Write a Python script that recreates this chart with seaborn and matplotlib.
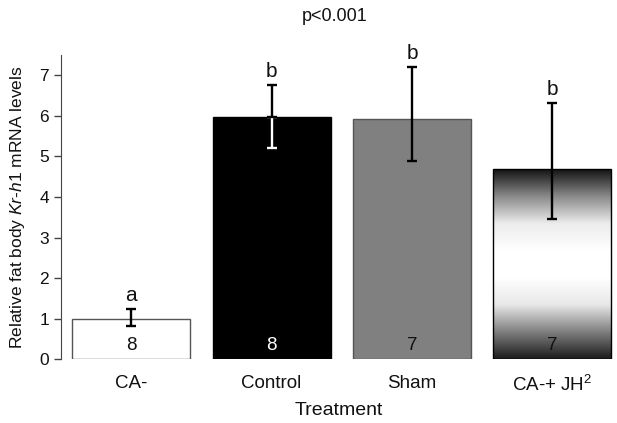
import numpy as np
import pandas as pd
import matplotlib
matplotlib.use('Agg')
import matplotlib.pyplot as plt
from matplotlib.colors import LinearSegmentedColormap
import seaborn as sns

# data
treatments = ['CA-', 'Control', 'Sham', 'CA-+ JH$^{2}$']
means = [1.0, 5.96, 5.93, 4.68]
err_low = [0.83, 5.20, 4.88, 3.46]
err_high = [1.23, 6.77, 7.21, 6.32]
letters = ['a', 'b', 'b', 'b']
n_sizes = [8, 8, 7, 7]

bar_colors = ['white', 'black', '#808080', 'white']
edge_colors = ['#555555', 'black', '#555555', 'black']
err_colors = ['black', 'white', 'black', 'black']

sns.set_style('white')
plt.rcParams['font.family'] = ['Liberation Sans', 'DejaVu Sans']
plt.rcParams['mathtext.fontset'] = 'custom'
plt.rcParams['mathtext.rm'] = 'Liberation Sans'
plt.rcParams['mathtext.it'] = 'Liberation Sans:italic'
plt.rcParams['text.color'] = '#111111'
plt.rcParams['axes.labelcolor'] = '#111111'
plt.rcParams['xtick.color'] = '#111111'
plt.rcParams['ytick.color'] = '#111111'

df = pd.DataFrame({'treatment': treatments, 'mean': means})

fig = plt.figure(figsize=(6.17, 4.23), dpi=100)
ax = fig.add_axes([0.0989, 0.1506, 0.9011, 0.7195])

sns.barplot(data=df, x='treatment', y='mean', hue='treatment', palette=bar_colors,
            legend=False, width=0.84, ax=ax, errorbar=None, saturation=1)

patches = list(ax.patches)
for p, ec in zip(patches, edge_colors):
    p.set_edgecolor(ec)
    p.set_linewidth(1.0)

# gradient fill for the last bar: dark top, white middle, dark bottom
grad_cmap = LinearSegmentedColormap.from_list(
    'g', ['#1c1c1c', '#808080', '#e8e8e8', '#ffffff', '#ffffff', '#ececec', '#8a8a8a', '#141414'])
p = patches[3]
x0, y0 = p.get_x(), p.get_y()
w, h = p.get_width(), p.get_height()
grad = np.linspace(0, 1, 256).reshape(-1, 1)
im = ax.imshow(grad, cmap=grad_cmap, aspect='auto', extent=[x0, x0 + w, y0 + h, y0],
               origin='upper', zorder=p.get_zorder())
im.set_clip_path(p)
p.set_facecolor('none')
p.set_zorder(im.get_zorder() + 0.1)

ekw = dict(capsize=3.5, elinewidth=1.7, capthick=1.7)
for i, (m, lo, hi) in enumerate(zip(means, err_low, err_high)):
    if err_colors[i] == 'white':
        ax.errorbar(i, m, yerr=[[m - lo], [0]], color='white', zorder=5, **ekw)
        ax.errorbar(i, m, yerr=[[0], [hi - m]], color='black', zorder=6, **ekw)
    else:
        ax.errorbar(i, m, yerr=[[m - lo], [hi - m]], color='black', zorder=5, **ekw)
    ax.text(i, hi + 0.1, letters[i], ha='center', va='bottom', fontsize=15)
    ax.text(i, 0.35, str(n_sizes[i]), ha='center', va='center', fontsize=13.5,
            color='white' if bar_colors[i] == 'black' else '#111111', zorder=6)

ax.set_xlim(-0.5, 3.46)
ax.set_ylim(0, 7.5)
ax.set_yticks(range(0, 8))
sns.despine(ax=ax, bottom=True)
ax.spines['left'].set_color('#444444')
ax.tick_params(axis='y', left=True, length=5, width=1, color='#444444', labelsize=12.5)
ax.tick_params(axis='x', bottom=False, labelsize=13.5, pad=8)
ax.set_xlabel('Treatment', fontsize=14, labelpad=5)
ax.set_ylabel('Relative fat body $\\it{Kr}$-$\\it{h1}$ mRNA levels', fontsize=12.5, labelpad=9)
fig.text(0.543, 0.962, 'p<0.001', ha='center', va='center', fontsize=13)

fig.savefig('out.png', dpi=100)
